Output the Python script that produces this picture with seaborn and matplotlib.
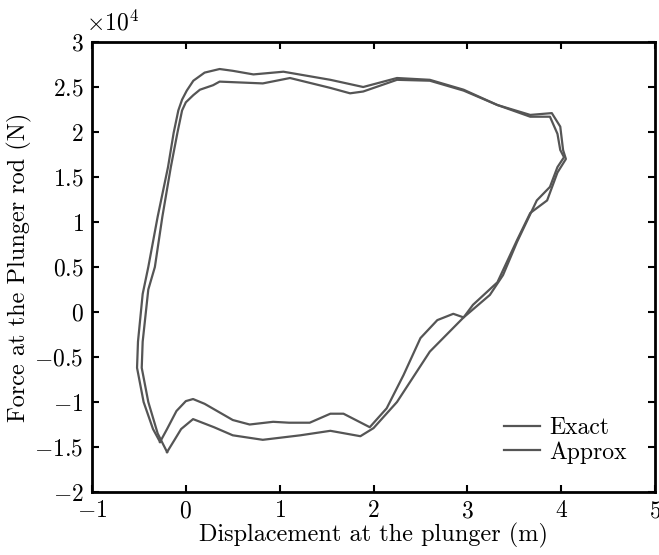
import numpy as np
import pandas as pd
import matplotlib
matplotlib.use("Agg")
import matplotlib.pyplot as plt
import seaborn as sns
from matplotlib.ticker import FuncFormatter, MultipleLocator

# Displacement (m) and force (x1e4 N)
exact_x = [-0.275, -0.2, -0.1, 0.0, 0.077, 0.2, 0.3, 0.5, 0.68, 0.93, 1.1, 1.32, 1.54, 1.68,
           1.96, 2.14, 2.32, 2.50, 2.68, 2.85, 2.96, 3.06, 3.32, 3.53, 3.67, 3.85, 3.96, 4.05,
           4.02, 3.99, 3.90, 3.67, 3.32, 2.96, 2.60, 2.25, 1.89, 1.54, 1.04, 0.72, 0.5, 0.36,
           0.2, 0.08, 0.01, -0.04, -0.08, -0.13, -0.19, -0.30, -0.40, -0.46, -0.51, -0.52,
           -0.45, -0.35, -0.275]
exact_y = [-1.444, -1.3, -1.1, -0.99, -0.967, -1.02, -1.08, -1.2, -1.25, -1.22, -1.23, -1.23,
           -1.13, -1.13, -1.28, -1.07, -0.70, -0.29, -0.09, -0.02, -0.06, 0.08, 0.33, 0.8, 1.1,
           1.24, 1.55, 1.7, 1.8, 2.06, 2.21, 2.19, 2.3, 2.47, 2.58, 2.6, 2.5, 2.58, 2.67, 2.64,
           2.68, 2.70, 2.66, 2.57, 2.46, 2.36, 2.24, 1.99, 1.61, 1.06, 0.5, 0.2, -0.33, -0.62,
           -1.0, -1.3, -1.444]

approx_x = [-0.2, -0.12, -0.05, 0.077, 0.3, 0.5, 0.82, 1.22, 1.54, 1.86, 2.0, 2.25, 2.60, 2.96,
            3.24, 3.38, 3.53, 3.74, 3.88, 3.96, 4.03, 3.99, 3.96, 3.88, 3.67, 3.32, 2.96, 2.60,
            2.25, 1.89, 1.75, 1.54, 1.11, 0.82, 0.36, 0.29, 0.15, 0.08, 0.0, -0.04, -0.09,
            -0.16, -0.25, -0.33, -0.40, -0.46, -0.47, -0.40, -0.30, -0.2]
approx_y = [-1.556, -1.42, -1.3, -1.19, -1.28, -1.37, -1.42, -1.37, -1.32, -1.38, -1.29, -1.0,
            -0.44, -0.06, 0.19, 0.41, 0.78, 1.24, 1.39, 1.61, 1.72, 1.8, 1.98, 2.17, 2.17, 2.3,
            2.46, 2.57, 2.58, 2.45, 2.43, 2.49, 2.6, 2.54, 2.56, 2.52, 2.47, 2.41, 2.33, 2.24,
            1.99, 1.61, 1.06, 0.5, 0.25, -0.33, -0.62, -1.0, -1.35, -1.556]

series_names = ["Exact", "Approx"]

plt.rcParams["font.family"] = ["cmr10", "DejaVu Serif"]
plt.rcParams["mathtext.fontset"] = "cm"
plt.rcParams["axes.formatter.use_mathtext"] = True

df = pd.concat([
    pd.DataFrame({"x": exact_x, "y": exact_y, "series": series_names[0], "order": range(len(exact_x))}),
    pd.DataFrame({"x": approx_x, "y": approx_y, "series": series_names[1], "order": range(len(approx_x))}),
])

fig = plt.figure(figsize=(6.59, 5.55), dpi=100)
ax = fig.add_axes([0.1396, 0.1135, 0.8544, 0.8108])
sns.lineplot(data=df, x="x", y="y", hue="series", sort=False, estimator=None,
             palette=["#555555", "#555555"], linewidth=1.6, ax=ax, legend=False)

for ln, name in zip(ax.get_lines(), series_names):
    ln.set_label(name)

ax.set_xlim(-1, 5)
ax.set_ylim(-2, 3)
ax.xaxis.set_major_locator(MultipleLocator(1))
ax.yaxis.set_major_locator(MultipleLocator(0.5))
fmt = FuncFormatter(lambda v, p: f"${v:g}$")
ax.xaxis.set_major_formatter(fmt)
ax.yaxis.set_major_formatter(fmt)
ax.tick_params(direction="in", length=5, width=1.5, top=True, right=True,
               labelsize=17, pad=6, colors="black")
for s in ax.spines.values():
    s.set_linewidth(2)
    s.set_color("black")

ax.set_xlabel("Displacement at the plunger (m)", fontsize=17.5, labelpad=0)
ax.set_ylabel("Force at the Plunger rod (N)", fontsize=17.5, labelpad=2)
ax.text(-0.01, 1.015, r"$\times10^4$", transform=ax.transAxes, fontsize=17, ha="left", va="bottom")

ax.legend(loc="lower right", frameon=False, fontsize=17, handlelength=1.5,
          handletextpad=0.4, borderaxespad=0.8, labelspacing=0.1)

fig.savefig("out.png", dpi=100)
